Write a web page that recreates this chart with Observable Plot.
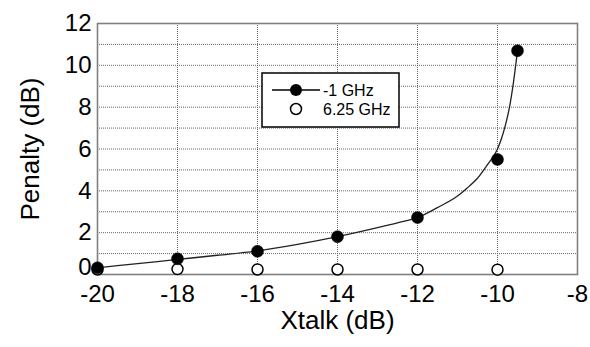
<!DOCTYPE html>
<html>
<head>
<meta charset="utf-8">
<script src="https://cdn.jsdelivr.net/npm/d3@7"></script>
<script src="https://cdn.jsdelivr.net/npm/@observablehq/plot@0.6"></script>
<style>
  html, body { margin: 0; padding: 0; background: #fff; }
  #chart svg { display: block; font-family: "Liberation Sans", Arial, sans-serif; }
</style>
</head>
<body>
<div id="chart"></div>
<script>
// Measured data
const xtalk = [-20, -18, -16, -14, -12, -10, -9.5];
const penalty1GHz = [0.32, 0.75, 1.11, 1.81, 2.72, 5.5, 10.7];
const xtalkOpen = [-20, -18, -16, -14, -12, -10];
const penalty625GHz = [0.24, 0.26, 0.24, 0.24, 0.24, 0.23];
// Fitted curve
const fitX = [-20, -19, -18, -17, -16, -15, -14, -13, -12.5, -12, -11.5, -11, -10.75, -10.5, -10.25, -10, -9.9, -9.8, -9.7, -9.6, -9.5];
const fitY = [0.32, 0.52, 0.72, 0.92, 1.13, 1.44, 1.81, 2.24, 2.47, 2.72, 3.2, 3.75, 4.15, 4.6, 5.25, 6.0, 6.5, 7.15, 8.0, 9.2, 10.7];
// Axes
const xTicks = [-20, -18, -16, -14, -12, -10, -8];
const yTicks = [2, 4, 6, 8, 10, 12];
const xGrid = [-18, -16, -14, -12, -10];
const yGrid = [1, 2, 3, 4, 5, 6, 7, 8, 9, 10, 11];
const seriesNames = ["-1 GHz", "6.25 GHz"];

const filled = xtalk.map((x, i) => ({x, y: penalty1GHz[i]}));
const open = xtalkOpen.map((x, i) => ({x, y: penalty625GHz[i]}));
const fit = fitX.map((x, i) => ({x, y: fitY[i]}));

const plot = Plot.plot({
  width: 590,
  height: 347,
  marginLeft: 97,
  marginRight: 13,
  marginTop: 23,
  marginBottom: 73,
  style: {background: "#fff", fontFamily: "Liberation Sans, Arial, sans-serif"},
  x: {domain: [-20, -8]},
  y: {domain: [0, 12]},
  marks: [
    Plot.ruleX(xGrid, {stroke: "#666", strokeOpacity: 1, strokeWidth: 1, strokeDasharray: "1,1"}),
    Plot.ruleY(yGrid, {stroke: "#666", strokeOpacity: 1, strokeWidth: 1, strokeDasharray: "1,1"}),
    Plot.frame({stroke: "#808080", strokeWidth: 1.6}),
    Plot.axisX({ticks: xTicks, tickSize: 0, tickPadding: 10, fontSize: 24, label: null, tickFormat: d => String(d)}),
    Plot.axisY({ticks: yTicks, tickSize: 0, tickPadding: 6, fontSize: 24, label: null, tickFormat: d => String(d)}),
    Plot.axisY({ticks: [0], tickSize: 0, tickPadding: 6, fontSize: 24, label: null, dy: -7, tickFormat: d => String(d)}),
    Plot.text(["Xtalk (dB)"], {frameAnchor: "bottom", dy: 46, fontSize: 26, fill: "#000", textAnchor: "middle", lineAnchor: "middle"}),
    Plot.text(["Penalty (dB)"], {frameAnchor: "left", dx: -67, rotate: -90, fontSize: 26, fill: "#000", textAnchor: "middle", lineAnchor: "middle"}),
    Plot.dot(open, {x: "x", y: "y", r: 5.5, fill: "#fff", stroke: "#000", strokeWidth: 1.5}),
    Plot.line(fit, {x: "x", y: "y", curve: "monotone-x", stroke: "#222", strokeWidth: 1.3}),
    Plot.dot(filled, {x: "x", y: "y", r: 6, fill: "#000", stroke: "#000", strokeWidth: 0.5})
  ]
});

const svg = d3.select(plot);
svg.selectAll('g[aria-label="x-axis tick label"], g[aria-label="y-axis tick label"]')
  .attr("font-size", 24).style("font-size", "24px").attr("fill", "#000");

// Legend inside the plot area
const lg = svg.append("g")
  .attr("font-family", "Liberation Sans, Arial, sans-serif")
  .style("font-size", "16px").attr("text-anchor", "start");
lg.append("rect").attr("x", 262).attr("y", 73).attr("width", 137).attr("height", 54)
  .attr("fill", "#fff").attr("stroke", "#000").attr("stroke-width", 1.5);
lg.append("line").attr("x1", 272).attr("x2", 320).attr("y1", 90).attr("y2", 90)
  .attr("stroke", "#000").attr("stroke-width", 1.3);
lg.append("circle").attr("cx", 296).attr("cy", 90).attr("r", 6).attr("fill", "#000");
lg.append("circle").attr("cx", 296).attr("cy", 109).attr("r", 5.5).attr("fill", "#fff")
  .attr("stroke", "#000").attr("stroke-width", 1.5);
lg.selectAll("text.lab").data(seriesNames).join("text")
  .attr("class", "lab")
  .attr("x", 323).attr("y", (d, i) => 90 + i * 19).attr("dy", "0.36em")
  .attr("text-anchor", "start")
  .attr("fill", "#000").text(d => d);

document.getElementById("chart").appendChild(plot);
</script>
</body>
</html>
